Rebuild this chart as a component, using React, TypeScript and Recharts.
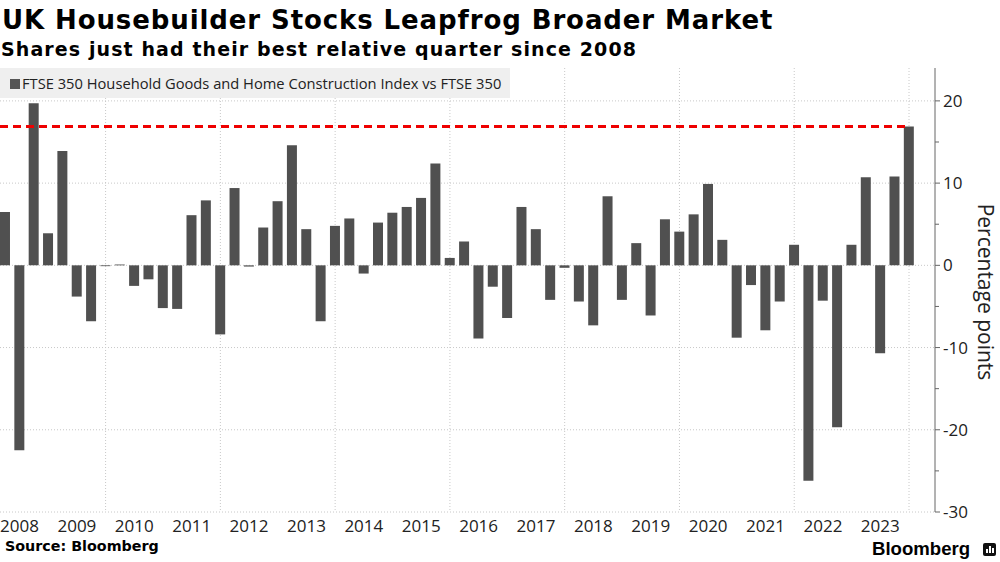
import React from 'react';
import { BarChart, Bar, XAxis, YAxis, CartesianGrid, ReferenceLine } from 'recharts';

// FTSE 350 Household Goods & Home Construction vs FTSE 350, quarterly relative return (pp)
const startYear = 2008;
const relPerf = [
    6.5, -22.5, 19.7, 3.9, // 2008
    13.9, -3.8, -6.8, -0.1, // 2009
    0.1, -2.5, -1.7, -5.2, // 2010
    -5.3, 6.1, 7.9, -8.4, // 2011
    9.4, -0.15, 4.6, 7.8, // 2012
    14.6, 4.4, -6.8, 4.8, // 2013
    5.7, -1.0, 5.2, 6.4, // 2014
    7.1, 8.2, 12.4, 0.9, // 2015
    2.9, -8.9, -2.6, -6.4, // 2016
    7.1, 4.4, -4.2, -0.3, // 2017
    -4.4, -7.3, 8.4, -4.2, // 2018
    2.7, -6.1, 5.6, 4.1, // 2019
    6.2, 9.9, 3.1, -8.8, // 2020
    -2.4, -7.9, -4.4, 2.5, // 2021
    -26.2, -4.3, -19.7, 2.5, // 2022
    10.7, -10.7, 10.8, 16.9, // 2023
];
const recordLevel = 16.9;
const yearLabels = [2008, 2009, 2010, 2011, 2012, 2013, 2014, 2015, 2016, 2017, 2018, 2019, 2020, 2021, 2022, 2023];
const yearGrid = [2010, 2012, 2014, 2016, 2018, 2020, 2022, 2024];
const yTicks = [-30, -25, -20, -15, -10, -5, 0, 5, 10, 15, 20];
const yGrid = [-30, -20, -10, 0, 10, 20];

const X_MIN = 2008.16;
const X_MAX = 2024.453;

// bars sit on quarter-end dates
const data = relPerf.map((v, i) => ({
    t: startYear + (i + 1) / 4,
    value: v,
}));

const FONT = '"Open Sans", "Noto Sans", sans-serif';

const XTick = ({ x, y, payload }: any) => (
    <text x={x} y={y + 20} textAnchor="middle" fontSize={17} fontFamily={FONT} fill="#222">
        {Math.floor(payload.value)}
    </text>
);

const YTick = ({ x, y, payload }: any) => {
    const major = payload.value % 10 === 0;
    return (
        <g>
            <line x1={x} x2={x + (major ? 5 : 4)} y1={y} y2={y} stroke="#666" strokeWidth={1} />
            {major && (
                <text x={x + 8} y={y} dy="0.36em" textAnchor="start" fontSize={17} fontFamily={FONT} fill="#222">
                    {payload.value}
                </text>
            )}
        </g>
    );
};

export default function App() {
    return (
        <div style={{ position: 'absolute', left: 0, top: 0, width: 1000, height: 562, background: '#fff', overflow: 'hidden' }}>
            <BarChart width={1000} height={562} data={data} margin={{ top: 68, right: 0, bottom: 0, left: 0 }}>
                <CartesianGrid
                    stroke="#c8c8c8"
                    strokeDasharray="1 2"
                    horizontalValues={yGrid}
                    verticalValues={yearGrid}
                />
                <XAxis
                    dataKey="t"
                    type="number"
                    domain={[X_MIN, X_MAX]}
                    allowDataOverflow
                    ticks={yearLabels.map(y => y + 0.5)}
                    interval={0}
                    tick={<XTick />}
                    tickLine={false}
                    axisLine={false}
                    tickSize={0}
                    tickMargin={0}
                    height={50}
                />
                <YAxis
                    orientation="right"
                    domain={[-30, 24]}
                    allowDataOverflow
                    ticks={yTicks}
                    interval={0}
                    tick={<YTick />}
                    tickLine={false}
                    tickSize={0}
                    tickMargin={0}
                    axisLine={{ stroke: '#666' }}
                    width={65}
                />
                <Bar dataKey="value" fill="#505050" barSize={10} isAnimationActive={false} />
                <ReferenceLine
                    segment={[{ x: X_MIN, y: recordLevel }, { x: startYear + relPerf.length / 4, y: recordLevel }]}
                    stroke="#ee0000"
                    strokeWidth={3}
                    strokeDasharray="8 5"
                />
            </BarChart>

            {/* legend */}
            <div style={{ position: 'absolute', left: 0, top: 68, width: 510, height: 30, background: '#efefef' }}>
                <div style={{ position: 'absolute', left: 10, top: 11, width: 10, height: 10, background: '#555' }} />
                <div style={{ position: 'absolute', left: 22, top: 3, fontFamily: FONT, fontSize: 14.7, color: '#222', whiteSpace: 'nowrap', lineHeight: '24px' }}>
                    FTSE 350 Household Goods and Home Construction Index vs FTSE 350
                </div>
            </div>

            <div style={{ position: 'absolute', left: 2, top: 3, fontFamily: '"DejaVu Sans", sans-serif', fontWeight: 700, fontSize: 26, letterSpacing: 0.9, color: '#000', whiteSpace: 'nowrap', lineHeight: '34px' }}>
                UK Housebuilder Stocks Leapfrog Broader Market
            </div>
            <div style={{ position: 'absolute', left: 1, top: 36, fontFamily: '"DejaVu Sans", sans-serif', fontWeight: 700, fontSize: 19, letterSpacing: 1.1, color: '#000', whiteSpace: 'nowrap', lineHeight: '26px' }}>
                Shares just had their best relative quarter since 2008
            </div>

            <div style={{ position: 'absolute', left: 986, top: 292, transform: 'translate(-50%, -50%) rotate(90deg)', fontFamily: FONT, fontSize: 21, color: '#222', whiteSpace: 'nowrap' }}>
                Percentage points
            </div>

            <div style={{ position: 'absolute', left: 5, top: 539.5, fontFamily: '"DejaVu Sans", sans-serif', fontWeight: 700, fontSize: 14.3, color: '#000', whiteSpace: 'nowrap', lineHeight: '12px' }}>
                Source: Bloomberg
            </div>
            <div style={{ position: 'absolute', left: 872, top: 538, fontFamily: '"Liberation Sans", Arial, sans-serif', fontWeight: 700, fontSize: 18.6, color: '#000', whiteSpace: 'nowrap', lineHeight: '22px' }}>
                Bloomberg
            </div>
            <div style={{ position: 'absolute', left: 983, top: 543, width: 13, height: 13, background: '#111', borderRadius: 2 }}>
                <div style={{ position: 'absolute', left: 3, top: 6, width: 2, height: 4, background: '#fff' }} />
                <div style={{ position: 'absolute', left: 6, top: 3, width: 2, height: 7, background: '#fff' }} />
                <div style={{ position: 'absolute', left: 9, top: 5, width: 2, height: 5, background: '#fff' }} />
            </div>
        </div>
    );
}
